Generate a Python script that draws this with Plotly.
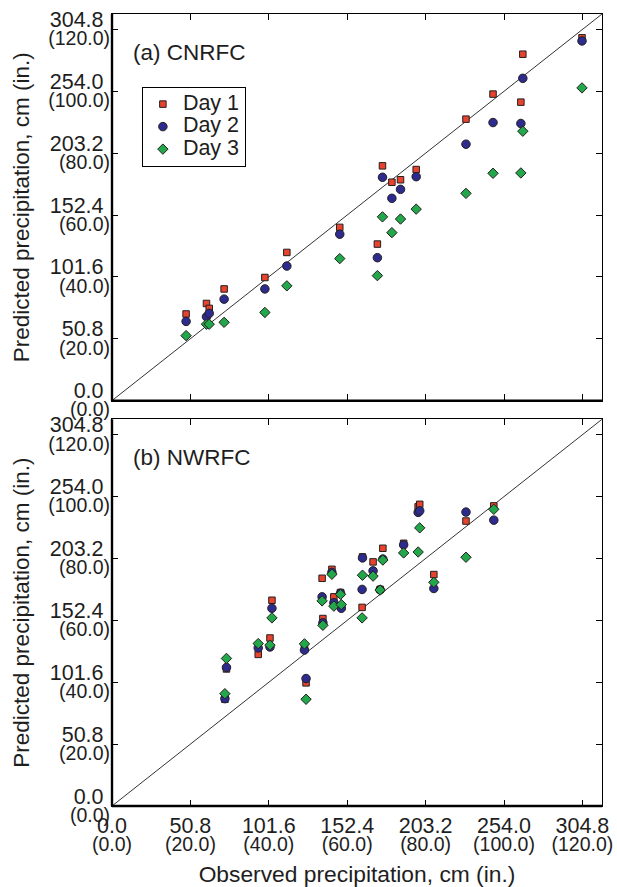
import plotly.graph_objects as go

IN_TO_CM = 2.54

# Axis ticks (inches); labels show cm with inches beneath
tick_in = [0, 20, 40, 60, 80, 100, 120]
cm_labels = [f"{v * IN_TO_CM:.1f}" for v in tick_in]
in_labels = [f"({v:.1f})" for v in tick_in]
axis_max = 125

# (a) CNRFC: observed vs predicted precipitation, inches
obs_a = [18.9, 24.1, 24.8, 28.6, 39.0, 44.6, 58.1, 67.7, 69.0, 71.4, 73.6, 77.6,
         90.3, 97.2, 104.3, 104.8, 119.9]
day1_a = [28.0, 31.4, 29.8, 36.1, 39.8, 47.9, 56.0, 50.6, 75.9, 70.6, 71.4, 74.7,
          91.0, 99.1, 96.5, 112.0, 117.3]
day2_a = [25.6, 27.1, 28.2, 32.8, 36.1, 43.5, 53.8, 46.2, 72.2, 65.4, 68.3, 72.4,
          82.9, 89.9, 89.6, 104.2, 116.3]
day3_a = [21.0, 24.7, 24.7, 25.3, 28.5, 37.1, 45.9, 40.4, 59.4, 54.3, 58.7, 61.9,
          67.0, 73.5, 73.6, 87.1, 101.1]

# (b) NWRFC
obs_b = [28.8, 29.2, 37.3, 40.3, 40.8, 49.1, 49.5, 53.6, 53.8, 56.1, 56.6, 58.3,
         58.5, 63.8, 63.9, 66.6, 68.4, 69.1, 74.4, 78.1, 78.5, 82.1, 90.3, 97.4]
day1_b = [34.5, 44.3, 49.0, 54.3, 66.5, 51.0, 39.8, 73.6, 60.6, 76.5, 67.6, 69.0,
          64.5, 64.2, 80.5, 78.9, 70.0, 83.3, 84.9, 96.7, 97.5, 74.8, 92.1, 97.0]
day2_b = [34.7, 44.8, 51.1, 51.4, 63.9, 50.4, 41.2, 67.6, 59.2, 75.5, 65.7, 68.8,
          63.9, 70.0, 80.2, 76.0, 69.9, 79.8, 84.4, 94.9, 95.4, 70.3, 95.0, 92.4]
day3_b = [36.3, 47.7, 52.5, 52.0, 60.8, 52.4, 34.5, 66.3, 58.4, 74.9, 64.6, 68.4,
          65.1, 60.8, 74.6, 74.3, 69.8, 79.5, 81.8, 82.1, 89.9, 72.3, 80.4, 95.9]

series_names = ["Day 1", "Day 2", "Day 3"]
series_colors = ["#E8432D", "#2D2C8E", "#22A84A"]
series_symbols = ["square", "circle", "diamond"]
series_sizes = [6.5, 8.5, 8]

FONT = "Liberation Sans, Arial, Helvetica, sans-serif"
INK = "#1e1e1e"

fig = go.Figure()

panels = [
    ("x", "y", obs_a, [day1_a, day2_a, day3_a], True),
    ("x2", "y2", obs_b, [day1_b, day2_b, day3_b], False),
]

for xa, ya, obs, days, legend_on in panels:
    # 1:1 reference line
    fig.add_trace(go.Scatter(
        x=[0, axis_max], y=[0, axis_max], mode="lines",
        line=dict(color="#333333", width=1), xaxis=xa, yaxis=ya,
        showlegend=False, hoverinfo="skip"))
    for name, vals, col, sym, sz in zip(series_names, days, series_colors,
                                         series_symbols, series_sizes):
        fig.add_trace(go.Scatter(
            x=obs, y=vals, mode="markers",
            name=f"<span style='font-size:21.5px'>{name}</span>",
            marker=dict(symbol=sym, size=sz, color=col,
                        line=dict(color="#231F20", width=1)),
            xaxis=xa, yaxis=ya, showlegend=legend_on))

# empty traces that register the secondary (inch) label axes
for xa, ya in [("x", "y3"), ("x3", "y2"), ("x2", "y4")]:
    fig.add_trace(go.Scatter(x=[], y=[], xaxis=xa, yaxis=ya,
                             showlegend=False, hoverinfo="skip"))

frame = dict(range=[0, axis_max], tickvals=tick_in, showgrid=False,
             zeroline=False, showline=True, linecolor="black", linewidth=1.3,
             mirror="ticks", ticks="inside", ticklen=6, tickwidth=1,
             tickcolor="black", fixedrange=True, automargin=False)
label_only = dict(range=[0, axis_max], tickvals=tick_in, ticktext=in_labels,
                  showgrid=False, zeroline=False, showline=False, ticks="",
                  tickfont=dict(size=19.5, color=INK, family=FONT),
                  fixedrange=True, automargin=False)
cm_font = dict(size=21.5, color=INK, family=FONT)
ytitle = dict(text="Predicted precipitation, cm (in.)",
              font=dict(size=22.5, color=INK, family=FONT), standoff=12)

TOP_DOM = [0.5119, 1.0]
BOT_DOM = [0.0, 0.4883]

fig.update_layout(
    xaxis=dict(**frame, domain=[0, 1], anchor="y", showticklabels=False),
    yaxis=dict(**frame, domain=TOP_DOM, anchor="x", ticktext=cm_labels,
               tickfont=cm_font, ticklabelshift=-10, ticklabelstandoff=3),
    yaxis3=dict(**label_only, overlaying="y", anchor="x", side="left",
                ticklabelshift=9, ticklabelstandoff=1, title=ytitle),
    xaxis2=dict(**frame, domain=[0, 1], anchor="y2", ticktext=cm_labels,
                tickfont=cm_font),
    yaxis2=dict(**frame, domain=BOT_DOM, anchor="x2", ticktext=cm_labels,
                tickfont=cm_font, ticklabelshift=-10, ticklabelstandoff=3),
    yaxis4=dict(**label_only, overlaying="y2", anchor="x2", side="left",
                ticklabelshift=9, ticklabelstandoff=1, title=ytitle),
    xaxis3=dict(**label_only, overlaying="x2", anchor="y2", side="bottom",
                ticklabelstandoff=24,
                title=dict(text="Observed precipitation, cm (in.)",
                           font=dict(size=22.8, color=INK, family=FONT),
                           standoff=14)),
)

# heavier left and bottom frame edges
for xa, ya in [("x", "y"), ("x2", "y2")]:
    fig.add_shape(type="line", xref=f"{xa} domain", yref=f"{ya} domain",
                  x0=0, x1=0, y0=0, y1=1, line=dict(color="black", width=2.4))
    fig.add_shape(type="line", xref=f"{xa} domain", yref=f"{ya} domain",
                  x0=0, x1=1, y0=0, y1=0, line=dict(color="black", width=2.4))

# panel labels
for ya, label in [("y", "(a) CNRFC"), ("y2", "(b) NWRFC")]:
    xa = "x" if ya == "y" else "x2"
    fig.add_annotation(text=label, xref=f"{xa} domain", yref=f"{ya} domain",
                       x=0.038, y=0.9, xanchor="left", yanchor="middle",
                       showarrow=False,
                       font=dict(size=22.5, color=INK, family=FONT))

fig.update_layout(
    width=617, height=887,
    margin=dict(l=112, r=15, t=14, b=81, autoexpand=False),
    paper_bgcolor="white", plot_bgcolor="white",
    font=dict(family=FONT, color=INK),
    legend=dict(x=0.061, y=0.908, xanchor="left", yanchor="top",
                bgcolor="white", bordercolor="black", borderwidth=1,
                font=dict(size=15, color=INK, family=FONT),
                tracegroupgap=0),
)

fig.write_html("out.html")
